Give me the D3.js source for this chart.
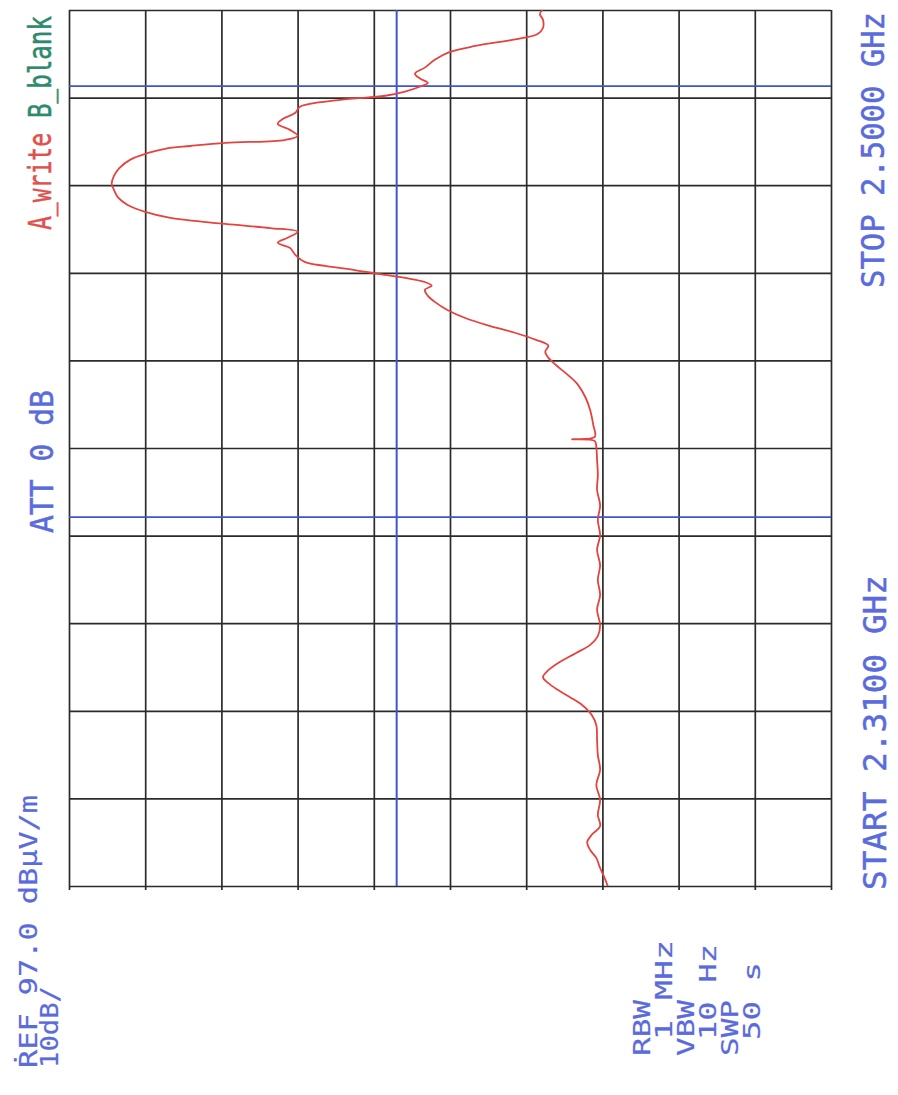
<!DOCTYPE html>
<html>
  <head>
    <meta charset="utf-8">
    <title>spectrum 2.31 - 2.50 GHz</title>
    <script type="text/javascript" src="https://d3js.org/d3.v7.min.js"></script>
    <style>
      body { margin:0; background:#fff; }
      text { font-family:"DejaVu Sans Mono", "Liberation Mono", monospace; }
    </style>
  </head>
  <body>
    <svg width="898" height="1095"></svg>
    <script>
    // trace A (GHz / dBuV/m)
    var freqs = [2.3100,2.3117,2.3139,2.3161,2.3178,2.3195,2.3211,2.3230,2.3254,2.3287,
                 2.3319,2.3352,2.3384,2.3417,2.3449,2.3471,2.3493,2.3510,2.3525,2.3540,
                 2.3553,2.3568,2.3586,2.3605,2.3623,2.3642,2.3666,2.3699,2.3731,2.3764,
                 2.3796,2.3829,2.3861,2.3894,2.3926,2.3959,2.3991,2.4024,2.4052,2.4065,
                 2.4069,2.4074,2.4100,2.4132,2.4159,2.4187,2.4208,2.4230,2.4246,2.4259,
                 2.4272,2.4285,2.4300,2.4315,2.4332,2.4350,2.4367,2.4380,2.4393,2.4402,
                 2.4410,2.4419,2.4427,2.4436,2.4445,2.4453,2.4469,2.4484,2.4495,2.4506,
                 2.4519,2.4527,2.4536,2.4549,2.4562,2.4577,2.4594,2.4610,2.4623,2.4640,
                 2.4657,2.4675,2.4690,2.4699,2.4705,2.4712,2.4718,2.4727,2.4740,2.4753,
                 2.4764,2.4777,2.4790,2.4805,2.4814,2.4823,2.4834,2.4842,2.4851,2.4862,
                 2.4875,2.4892,2.4909,2.4922,2.4931,2.4940,2.4948,2.4961,2.4979,2.4991,2.5000];
    var levels = [26.3,26.7,27.3,27.8,28.6,29.0,28.4,27.3,27.6,27.3,
                  27.8,27.3,27.6,27.7,27.8,28.4,29.7,31.3,32.8,34.1,
                  34.8,34.1,32.6,30.5,28.6,27.6,27.3,27.7,27.3,27.6,
                  27.3,27.7,27.3,27.6,27.3,27.7,27.6,27.7,27.8,28.0,
                  31.0,28.0,28.2,28.6,29.2,30.2,31.5,33.1,34.1,34.5,
                  34.1,35.8,38.5,41.8,45.0,47.4,49.0,49.9,50.3,49.4,
                  50.3,52.9,56.2,59.5,63.4,66.0,67.3,68.0,69.6,68.3,
                  67.0,70.6,76.5,83.7,87.0,89.3,90.6,91.1,91.4,91.1,
                  90.4,89.0,86.6,84.4,81.1,76.5,68.7,67.0,68.0,69.6,
                  68.9,67.3,66.7,61.4,55.5,52.9,50.9,49.9,50.9,51.6,
                  50.3,49.0,47.0,43.7,40.4,37.2,35.5,34.8,34.8,35.2,34.9];

    var levelTicks = [97,87,77,67,57,47,37,27,17,7,-3];
    var freqTicks = [2.310,2.329,2.348,2.367,2.386,2.405,2.424,2.443,2.462,2.481,2.500];
    var markerFreqs = [2.390, 2.4835];
    var limitLevel = 54;

    var marge = {top:10, left:69};
    var plotW = 762, plotH = 876;
    var svg = d3.select("svg");

    // plot is turned on its side: level runs left->right, frequency bottom->top
    var x = d3.scaleLinear().domain([97, -3]).range([marge.left, marge.left + plotW]);
    var y = d3.scaleLinear().domain([2.31, 2.50]).range([marge.top + plotH, marge.top]);

    var gridColor = "#2b2b2b", blue = "#3f55d0", textBlue = "#5a6bdc";

    // grid from the axes
    svg.append("g")
      .attr("transform", "translate(0," + (marge.top + plotH + 4) + ")")
      .call(d3.axisBottom(x).tickValues(levelTicks).tickSize(-(plotH + 4)).tickFormat(""));
    svg.append("g")
      .attr("transform", "translate(" + marge.left + ",0)")
      .call(d3.axisRight(y).tickValues(freqTicks).tickSize(plotW).tickFormat(""));
    svg.selectAll(".domain").remove();
    svg.selectAll(".tick line").attr("stroke", gridColor).attr("stroke-width", 1.7);

    // display line and frequency markers
    svg.append("line")
      .attr("x1", x(limitLevel)).attr("x2", x(limitLevel))
      .attr("y1", y(2.50)).attr("y2", y(2.31))
      .attr("stroke", blue).attr("stroke-width", 2);
    svg.selectAll(".mk").data(markerFreqs).enter().append("line")
      .attr("x1", x(97)).attr("x2", x(-3))
      .attr("y1", function(d){ return y(d); })
      .attr("y2", function(d){ return y(d); })
      .attr("stroke", blue).attr("stroke-width", 1.8);

    // trace
    var pts = freqs.map(function(f, i){ return [f, levels[i]]; });
    var line = d3.line()
      .x(function(d){ return x(d[1]); })
      .y(function(d){ return y(d[0]); })
      .curve(d3.curveCatmullRom.alpha(0.5));
    svg.append("path")
      .attr("d", line(pts))
      .attr("fill", "none")
      .attr("stroke", "#e5433f")
      .attr("stroke-width", 1.8);

    // annotations, all written bottom-to-top
    var labels = [
      {t:"A_write", x:51, y:230, len:97, size:32, c:"#e0504c"},
      {t:"B_blank", x:51, y:118, len:102, size:32, c:"#2d8a6c"},
      {t:"ATT 0 dB", x:53, y:533, len:143, size:32, c:textBlue},
      {t:"\u1E58EF 97.0 dB\u03BCV/m", x:37, y:1068, len:273, size:25, c:textBlue},
      {t:"10dB/", x:58, y:1068, len:82, size:25, c:textBlue},
      {t:"STOP 2.5000 GHz", x:884, y:288, len:276, size:32, c:textBlue},
      {t:"START 2.3100 GHz", x:886, y:890, len:315, size:32, c:textBlue},
      {t:"RBW", x:650, y:1056, len:56, size:23, c:textBlue},
      {t:"1 MHz", x:672, y:1040, len:100, size:23, c:textBlue},
      {t:"VBW", x:694, y:1056, len:56, size:23, c:textBlue},
      {t:"10 Hz", x:716, y:1040, len:96, size:23, c:textBlue},
      {t:"SWP", x:738, y:1056, len:56, size:23, c:textBlue},
      {t:"50 s", x:760, y:1040, len:78, size:23, c:textBlue}
    ];
    svg.selectAll(".lab").data(labels).enter().append("text")
      .attr("transform", function(d){ return "translate(" + d.x + "," + d.y + ") rotate(-90)"; })
      .attr("font-size", function(d){ return d.size; })
      .attr("fill", function(d){ return d.c; })
      .attr("stroke", function(d){ return d.c; })
      .attr("stroke-width", function(d){ return d.size > 26 ? 0.5 : 0.2; })
      .attr("textLength", function(d){ return d.len; })
      .attr("lengthAdjust", "spacingAndGlyphs")
      .text(function(d){ return d.t; });
    </script>
  </body>
</html>
